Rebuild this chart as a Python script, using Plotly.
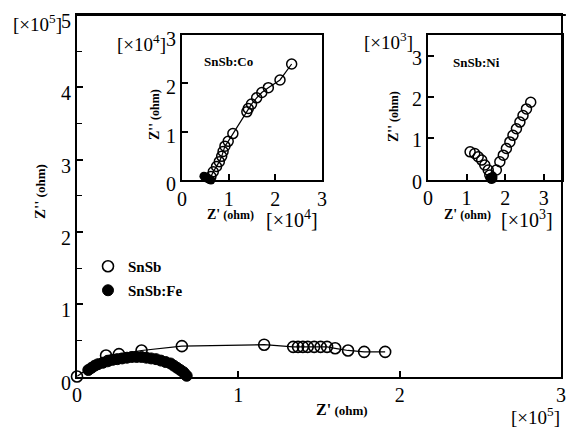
import plotly.graph_objects as go

# ---------------- data ----------------
# Main plot (x1e5 ohm)
snsb_x = [0.00, 0.18, 0.26, 0.40, 0.65, 1.16, 1.34, 1.37, 1.40, 1.43, 1.47, 1.51, 1.55, 1.60, 1.68, 1.78, 1.91]
snsb_y = [0.00, 0.29, 0.31, 0.36, 0.42, 0.44, 0.41, 0.41, 0.41, 0.41, 0.41, 0.41, 0.41, 0.39, 0.36, 0.34, 0.34]

fe_x = [0.07, 0.09, 0.11, 0.13, 0.16, 0.19, 0.22, 0.25, 0.28, 0.31, 0.34, 0.37, 0.40,
        0.43, 0.46, 0.49, 0.52, 0.55, 0.58, 0.60, 0.62, 0.64, 0.66, 0.67, 0.68]
fe_y = [0.09, 0.12, 0.15, 0.17, 0.19, 0.21, 0.23, 0.24, 0.25, 0.26, 0.27, 0.27, 0.27,
        0.26, 0.25, 0.24, 0.22, 0.20, 0.18, 0.15, 0.12, 0.09, 0.06, 0.03, 0.01]

# Inset SnSb:Co (x1e4 ohm)
co_fill_x = [0.47, 0.50, 0.53, 0.56, 0.59, 0.62]
co_fill_y = [0.08, 0.06, 0.04, 0.03, 0.01, 0.00]
co_x = [0.62, 0.67, 0.74, 0.80, 0.85, 0.88, 0.92, 0.99, 1.09, 1.39, 1.42, 1.49, 1.60, 1.71, 1.85, 2.10, 2.35]
co_y = [0.07, 0.17, 0.28, 0.38, 0.49, 0.59, 0.70, 0.80, 0.96, 1.41, 1.48, 1.57, 1.70, 1.81, 1.91, 2.07, 2.40]

# Inset SnSb:Ni (x1e3 ohm)
ni_x = [1.09, 1.21, 1.30, 1.39, 1.47, 1.56, 1.60, 1.65, 1.77, 1.86, 1.95, 2.03,
        2.12, 2.20, 2.29, 2.38, 2.46, 2.55, 2.66]
ni_y = [0.67, 0.63, 0.55, 0.47, 0.35, 0.23, 0.11, 0.03, 0.23, 0.43, 0.59, 0.75,
        0.91, 1.07, 1.23, 1.39, 1.55, 1.71, 1.87]
ni_fill_x = [1.60, 1.63, 1.66, 1.68]
ni_fill_y = [0.04, 0.01, 0.03, 0.08]

main_ticks = [0, 1, 2, 3, 4, 5]
inset_ticks = [0, 1, 2, 3]

FONT = "Liberation Serif"
W, H = 566, 428

fig = go.Figure()

# main plot
fig.add_trace(go.Scatter(x=snsb_x, y=snsb_y, mode="lines", line=dict(color="black", width=1.2),
                         showlegend=False, xaxis="x", yaxis="y", cliponaxis=False, hoverinfo="skip"))
fig.add_trace(go.Scatter(x=fe_x, y=fe_y, mode="markers", name="SnSb:Fe", legend="legend2",
                         marker=dict(symbol="circle", size=11, color="black", line=dict(color="black", width=1)),
                         xaxis="x", yaxis="y", cliponaxis=False))
fig.add_trace(go.Scatter(x=snsb_x, y=snsb_y, mode="markers", name="SnSb", legend="legend",
                         marker=dict(symbol="circle-open", size=11, color="black", line=dict(color="black", width=1.6)),
                         xaxis="x", yaxis="y", cliponaxis=False))

# Co inset
fig.add_trace(go.Scatter(x=[co_fill_x[0]] + co_x, y=[co_fill_y[0]] + co_y, mode="lines",
                         line=dict(color="black", width=1.2), showlegend=False,
                         xaxis="x2", yaxis="y2", cliponaxis=False))
fig.add_trace(go.Scatter(x=co_fill_x, y=co_fill_y, mode="markers", showlegend=False,
                         marker=dict(symbol="circle", size=9, color="black"),
                         xaxis="x2", yaxis="y2", cliponaxis=False))
fig.add_trace(go.Scatter(x=co_x, y=co_y, mode="markers", showlegend=False,
                         marker=dict(symbol="circle-open", size=10, color="black", line=dict(color="black", width=1.5)),
                         xaxis="x2", yaxis="y2", cliponaxis=False))

# Ni inset
fig.add_trace(go.Scatter(x=ni_fill_x, y=ni_fill_y, mode="markers", showlegend=False,
                         marker=dict(symbol="circle", size=9, color="black"),
                         xaxis="x3", yaxis="y3", cliponaxis=False))
fig.add_trace(go.Scatter(x=ni_x, y=ni_y, mode="markers", showlegend=False,
                         marker=dict(symbol="circle-open", size=10, color="black", line=dict(color="black", width=1.5)),
                         xaxis="x3", yaxis="y3", cliponaxis=False))

def px(x):
    return x / W

def py(y):
    return 1 - y / H

axis_common = dict(showline=True, linecolor="black", linewidth=1.8, mirror=True, ticks="inside",
                   tickcolor="black", tickwidth=1.5, showgrid=False, zeroline=False, automargin=False,
                   tickfont=dict(family=FONT, size=20, color="black"))

fig.update_layout(
    width=W, height=H, margin=dict(l=0, r=0, t=0, b=0, autoexpand=False),
    paper_bgcolor="white", plot_bgcolor="rgba(0,0,0,0)",
    font=dict(family=FONT, color="black"),
    xaxis=dict(domain=[px(77), px(561)], range=[0, 3], tickvals=main_ticks[:4],
               ticktext=[str(v) for v in main_ticks[:4]], ticklen=6, anchor="y", **axis_common),
    yaxis=dict(domain=[py(376.5), py(15)], range=[0, 5], tickvals=main_ticks,
               ticktext=[str(v) for v in main_ticks], ticklen=6, anchor="x", ticklabelshift=6,
               minor=dict(ticks="inside", dtick=0.5, ticklen=5, tickcolor="black", tickwidth=1.3),
               **axis_common),
    xaxis2=dict(domain=[px(182), px(322)], range=[0, 3], tickvals=inset_ticks,
                ticktext=[str(v) for v in inset_ticks], ticklen=6, anchor="y2", **axis_common),
    yaxis2=dict(domain=[py(180), py(35)], range=[0, 3], tickvals=inset_ticks,
                ticktext=[str(v) for v in inset_ticks], ticklen=6, anchor="x2", ticklabelshift=4,
                **axis_common),
    xaxis3=dict(domain=[px(428), px(562)], range=[0, 3.47], tickvals=inset_ticks,
                ticktext=[str(v) for v in inset_ticks], ticklen=6, anchor="y3", **axis_common),
    yaxis3=dict(domain=[py(179.5), py(35)], range=[0, 3.5], tickvals=inset_ticks,
                ticktext=[str(v) for v in inset_ticks], ticklen=6, anchor="x3", ticklabelshift=2,
                **axis_common),
    legend=dict(x=px(88), y=py(250), xanchor="left", yanchor="top", bgcolor="rgba(0,0,0,0)",
                font=dict(family=FONT, size=15, color="black", weight="bold"), borderwidth=0),
    legend2=dict(x=px(88), y=py(274), xanchor="left", yanchor="top", bgcolor="rgba(0,0,0,0)",
                 font=dict(family=FONT, size=15, color="black", weight="bold"), borderwidth=0),
)

# top frame of the main plot (drawn relative to the axis domain)
fig.add_shape(type="line", xref="x domain", yref="y domain", x0=0, x1=1.01, y0=1, y1=1,
              line=dict(color="black", width=1.8), layer="above")

def ann(x, y, text, size, angle=0, xanchor="center"):
    fig.add_annotation(x=px(x), y=py(y), xref="paper", yref="paper", text=text, showarrow=False,
                       textangle=angle, xanchor=xanchor, yanchor="middle",
                       font=dict(family=FONT, size=size, color="black"))

# main annotations
ann(37, 23, "[×10<sup>5</sup>]", 19)
ann(535, 416, "[×10<sup>5</sup>]", 19)
ann(342, 409, "<b><span style='font-size:16px'>Z'</span> (ohm)</b>", 13)
ann(40, 192, "<b><span style='font-size:15px'>Z''</span> (ohm)</b>", 13, angle=-90)

# Co inset annotations
ann(141, 43, "[×10<sup>4</sup>]", 19)
ann(292, 219, "[×10<sup>4</sup>]", 20)
ann(230, 214, "<b><span style='font-size:14px'>Z'</span> (ohm)</b>", 12)
ann(154, 115, "<b><span style='font-size:14px'>Z''</span> (ohm)</b>", 12, angle=-90)
ann(228, 62, "<b>SnSb:Co</b>", 13)

# Ni inset annotations
ann(388, 41, "[×10<sup>3</sup>]", 19)
ann(527, 219, "[×10<sup>3</sup>]", 20)
ann(467, 214, "<b><span style='font-size:14px'>Z'</span> (ohm)</b>", 12)
ann(393, 117, "<b><span style='font-size:14px'>Z''</span> (ohm)</b>", 12, angle=-90)
ann(476, 63, "<b>SnSb:Ni</b>", 13)

fig.write_html("out.html")
